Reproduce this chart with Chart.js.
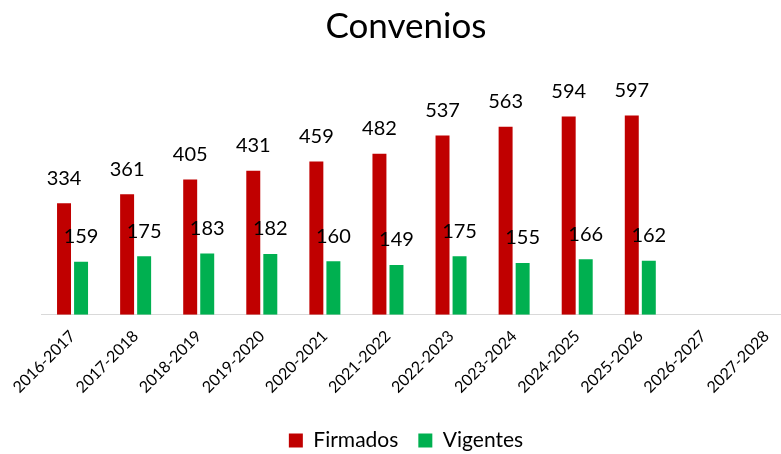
<!DOCTYPE html>
<html>
<head>
<meta charset="utf-8">
<script src="https://cdn.jsdelivr.net/npm/chart.js@4"></script>
<style>
  html, body { margin: 0; padding: 0; background: #fff; overflow: hidden; }
  #wrap { width: 812px; height: 454px; }
</style>
</head>
<body>
<div id="wrap"><canvas id="chart" width="812" height="454"></canvas></div>
<script>
const categories = ['2016-2017', '2017-2018', '2018-2019', '2019-2020', '2020-2021', '2021-2022',
    '2022-2023', '2023-2024', '2024-2025', '2025-2026', '2026-2027', '2027-2028'];
const firmados = [334, 361, 405, 431, 459, 482, 537, 563, 594, 597, null, null];
const vigentes = [159, 175, 183, 182, 160, 149, 175, 155, 166, 162, null, null];

const FONT = 'Lato, "Open Sans", sans-serif';

// draws the value above each bar
const valueLabels = {
    id: 'valueLabels',
    afterDatasetsDraw(chart) {
        const ctx = chart.ctx;
        ctx.save();
        ctx.font = '20px ' + FONT;
        ctx.fillStyle = '#000';
        ctx.textAlign = 'center';
        ctx.textBaseline = 'middle';
        chart.data.datasets.forEach(function (ds, i) {
            chart.getDatasetMeta(i).data.forEach(function (bar, j) {
                if (ds.data[j] == null) return;
                ctx.fillText(ds.data[j], bar.x, bar.y - 25);
            });
        });
        ctx.restore();
    }
};

document.addEventListener('DOMContentLoaded', function () {
    new Chart(document.getElementById('chart').getContext('2d'), {
        type: 'bar',
        data: {
            labels: categories,
            datasets: [{
                label: 'Firmados',
                data: firmados,
                backgroundColor: '#C00000',
                categoryPercentage: 0.54,
                barPercentage: 0.82
            }, {
                label: 'Vigentes',
                data: vigentes,
                backgroundColor: '#00B050',
                categoryPercentage: 0.54,
                barPercentage: 0.82
            }]
        },
        options: {
            responsive: false,
            animation: false,
            layout: { padding: { left: 14, right: 14, top: 0, bottom: -7 } },
            plugins: {
                title: {
                    display: true,
                    text: 'Convenios',
                    color: '#000',
                    font: { family: FONT, size: 35, weight: 'normal' },
                    padding: { top: 6, bottom: 33 }
                },
                legend: {
                    position: 'bottom',
                    labels: {
                        color: '#000',
                        font: { family: FONT, size: 21 },
                        boxWidth: 14,
                        boxHeight: 14,
                        padding: 20
                    }
                },
                tooltip: { enabled: false }
            },
            scales: {
                x: {
                    grid: { display: false },
                    border: { display: true, color: '#d9d9d9', width: 1 },
                    ticks: {
                        color: '#000',
                        font: { family: FONT, size: 16 },
                        minRotation: 45,
                        maxRotation: 45,
                        padding: 4
                    },
                    afterFit: function (axis) { axis.height += 9; }
                },
                y: {
                    min: 0,
                    max: 700,
                    grid: { display: false },
                    border: { display: false },
                    ticks: { display: false },
                    afterFit: function (axis) { axis.width = 27; }
                }
            }
        },
        plugins: [valueLabels]
    });
});
</script>
</body>
</html>
